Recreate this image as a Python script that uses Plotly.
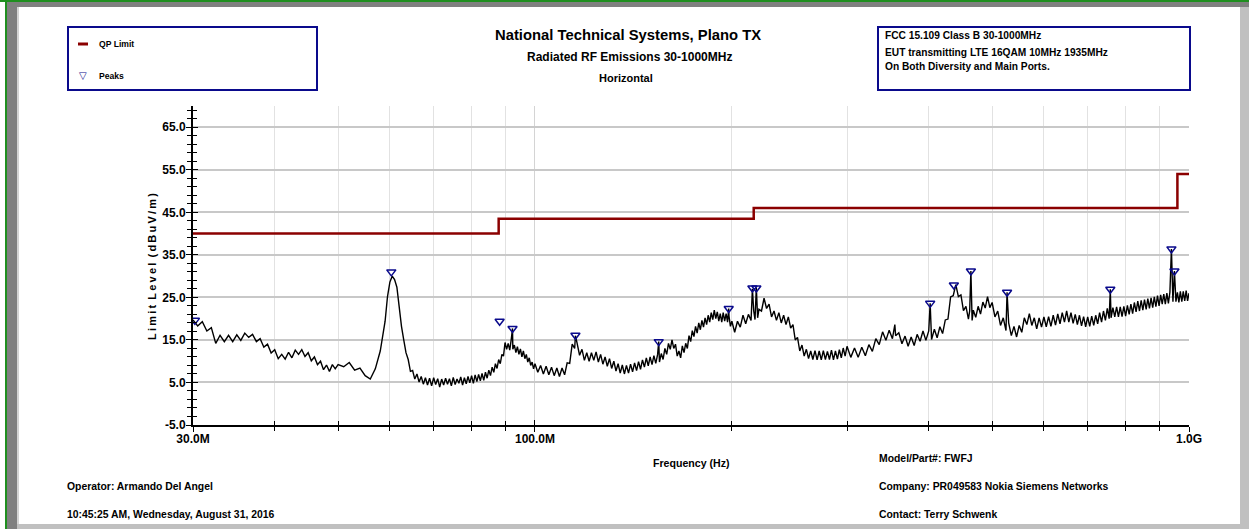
import math
import plotly.graph_objects as go

# ---------------- data ----------------
limit_freq_mhz = [30, 88, 216, 960, 1000]
limit_level = [40.0, 43.5, 46.0, 54.0, 54.0]

peak_freq_mhz = [30.2, 60.3, 88.3, 92.4, 115.3, 154.6, 197.8, 215.0, 218.0,
                 402.0, 437.0, 464.0, 527.0, 758.0, 940.0, 950.0]
peak_level = [19.6, 31.0, 19.4, 17.7, 16.1, 14.6, 22.4, 27.2, 27.2,
              23.6, 27.9, 31.2, 26.2, 26.9, 36.4, 31.2]

# measured trace, split in frequency bands (MHz, dBuV/m)
freq_a = [30.0, 30.5, 31.0, 31.5, 32.0, 32.5, 33.0, 33.5, 34.0, 34.5,
          35.0, 35.5, 36.0, 36.5, 37.0, 37.5, 38.0, 38.5, 39.0, 39.5,
          40.0, 40.5, 41.0, 41.5, 42.0, 42.5, 43.0, 43.5, 44.0, 44.5,
          45.0, 45.5, 46.0, 46.5, 47.0, 47.5, 48.0, 48.5, 49.0, 49.5]
level_a = [19.7, 18.3, 19.3, 17.1, 17.9, 14.2, 16.1, 14.6, 16.1, 14.6,
           16.2, 14.9, 16.6, 15.6, 16.3, 14.6, 15.3, 13.3, 14.0, 11.9,
           12.7, 10.6, 11.6, 10.5, 12.1, 10.8, 12.6, 11.6, 12.7, 11.1,
           12.0, 10.1, 11.0, 9.2, 10.0, 8.0, 9.1, 7.6, 9.2, 8.2]

freq_b = [50, 51, 52, 53, 54, 55, 56, 57,
          58.0, 58.5, 59.0, 59.5, 60.0, 60.5, 61.0, 61.5, 62.0, 62.5, 63.0, 63.5,
          64.0, 64.5, 65.0, 65.5, 66.0, 66.5, 67.0, 67.5, 68.0, 68.5,
          69.0, 69.5, 70.0, 70.5, 71.0, 71.5, 72.0, 72.5, 73.0, 73.5,
          74.0, 74.5, 75.0, 75.5, 76.0, 76.5, 77.0, 77.5, 78.0, 78.5,
          79.0, 79.5, 80.0, 80.5, 81.0, 81.5, 82.0, 82.5, 83.0, 83.5,
          84.0, 84.5, 85.0, 85.5, 86.0, 86.5, 87.0, 87.5, 88.0, 88.5,
          89.0, 89.5, 90.0, 90.5, 91.0, 91.5, 92.0, 92.4, 92.5, 93.0,
          93.5, 94.0, 94.5, 95.0, 95.5, 96.0, 96.5, 97.0, 97.5, 98.0,
          98.5, 99.0, 99.5]
level_b = [9.2, 8.7, 9.7, 7.9, 8.4, 6.6, 5.8, 8.2,
           12.4, 15.8, 19.4, 25.2, 28.6, 30.0, 29.2, 27.4, 22.6, 18.2, 15.0, 12.0,
           10.4, 7.6, 7.8, 5.8, 7.0, 5.1, 6.4, 4.6, 6.1, 4.4,
           6.0, 4.2, 6.1, 4.5, 5.9, 3.9, 5.8, 4.4, 6.0, 4.6,
           5.9, 4.2, 6.2, 4.5, 5.8, 4.8, 6.3, 4.4, 6.1, 4.7,
           6.4, 4.9, 6.6, 4.8, 6.8, 5.2, 6.9, 5.4, 7.1, 5.5,
           7.4, 6.0, 7.9, 6.6, 8.6, 7.4, 9.4, 8.3, 10.4, 9.4,
           11.6, 11.2, 14.4, 12.8, 14.2, 12.6, 15.2, 17.7, 12.8, 13.8,
           12.0, 13.4, 11.6, 12.9, 11.0, 12.4, 10.6, 11.6, 9.8, 10.8,
           9.0, 9.8, 8.2]

freq_c = [100, 101, 102, 103, 104, 105, 106, 107, 108, 109,
          110, 111, 112, 113, 114, 115, 115.3, 116, 117, 118,
          119, 120, 121, 122, 123, 124, 125, 126, 127, 128,
          129, 130, 131, 132, 133, 134, 135, 136, 137, 138,
          139, 140, 141, 142, 143, 144, 145, 146, 147, 148,
          149, 150, 151, 152, 153, 154, 154.6, 155, 156, 157,
          158, 159, 160, 161, 162, 163, 164, 165, 166, 167,
          168, 169, 170, 171, 172, 173, 174, 175, 176, 177,
          178, 179, 180, 181, 182, 183, 184, 185, 186, 187,
          188, 189, 190, 191, 192, 193, 194, 195, 196, 197,
          197.8, 198, 199]
level_c = [9.4, 7.4, 9.0, 7.0, 8.8, 6.8, 8.6, 6.6, 8.4, 6.4,
           8.4, 6.8, 9.6, 9.5, 14.0, 13.0, 16.0, 14.2, 11.4, 12.8,
           10.2, 12.0, 10.0, 12.0, 10.2, 12.2, 9.8, 11.6, 9.3, 11.0,
           8.8, 10.6, 8.3, 10.0, 7.7, 9.4, 7.2, 9.1, 7.0, 9.0,
           7.2, 9.3, 7.5, 9.6, 7.8, 9.9, 8.1, 10.3, 8.6, 10.8,
           8.9, 11.0, 9.2, 11.3, 9.5, 11.6, 14.6, 9.8, 11.8, 10.4,
           13.0, 11.6, 14.2, 12.8, 15.0, 13.0, 14.0, 11.2, 12.4, 10.8,
           13.6, 12.0, 14.2, 13.0, 16.0, 14.6, 17.2, 15.8, 18.2, 16.6,
           19.0, 17.4, 19.6, 18.0, 20.2, 18.6, 20.8, 19.2, 21.4, 19.8,
           22.0, 20.0, 21.6, 19.4, 21.2, 19.2, 21.4, 19.4, 21.2, 19.2,
           22.4, 20.6, 18.2]

freq_d = [200, 202, 204, 206, 208, 210, 212, 214, 215, 216,
          217, 218, 219, 220, 222, 224, 226, 228, 230, 232,
          234, 236, 238, 240, 242, 244, 246, 248, 250, 252,
          254, 256, 258, 260, 262, 264, 266, 268, 270, 272,
          274, 276, 278, 280, 282, 284, 286, 288, 290, 292,
          294, 296, 298]
level_d = [19.4, 16.8, 19.4, 18.0, 20.8, 18.8, 21.0, 19.6, 27.0, 21.8,
           19.8, 27.3, 20.2, 22.2, 21.8, 24.8, 22.4, 23.4, 20.4, 21.8,
           19.6, 21.4, 19.0, 20.8, 18.6, 20.4, 17.8, 18.6, 15.0, 15.6,
           12.4, 13.8, 11.2, 12.8, 10.6, 12.4, 10.4, 12.5, 10.3, 12.4,
           10.3, 12.5, 10.4, 12.3, 10.4, 12.6, 10.3, 12.4, 10.5, 12.7,
           10.8, 13.1, 11.2]

freq_e = [300, 304, 308, 312, 316, 320, 324, 328, 332, 336,
          340, 344, 348, 352, 355, 356, 360, 364, 368, 372,
          376, 380, 384, 388, 392, 396, 400, 402, 404, 408,
          412, 416, 420, 424, 428, 432, 436, 440, 444, 448,
          452, 456, 460, 462, 464, 466, 468, 472, 476, 480,
          484, 488, 492, 496]
level_e = [13.5, 10.9, 13.1, 10.9, 13.3, 11.3, 13.9, 12.3, 15.3, 13.9,
           16.9, 14.9, 17.3, 15.3, 18.6, 16.0, 16.7, 14.1, 15.9, 13.5,
           15.7, 13.7, 16.3, 14.7, 17.1, 14.9, 17.1, 23.6, 15.1, 17.5,
           15.5, 18.1, 16.5, 19.7, 19.9, 25.1, 25.4, 28.0, 25.2, 25.6,
           21.9, 22.9, 19.9, 21.8, 31.2, 19.6, 22.0, 20.3, 22.9, 21.1,
           23.9, 22.5, 25.2, 22.6]

freq_f = [500, 505, 510, 515, 520, 525, 527, 530, 535, 540,
          545, 550, 555, 560, 565, 570, 575, 580, 585, 590,
          595, 600, 605, 610, 615, 620, 625, 630, 635, 640,
          645, 650, 655, 660, 665, 670, 675, 680, 685, 690,
          695, 700, 705, 710, 715, 720, 725, 730, 735, 740,
          745, 750, 755, 758, 760, 765, 770, 775, 780, 785,
          790, 795, 800, 805, 810, 815, 820, 825, 830, 835,
          840, 845, 850, 855, 860, 865, 870, 875, 880, 885,
          890, 895, 900, 905, 910, 915, 920, 925, 930, 935,
          940, 945, 950, 955, 960, 965, 970, 975, 980, 985,
          990, 995, 1000]
level_f = [23.8, 20.4, 21.8, 18.4, 20.2, 17.2, 26.2, 19.0, 16.0, 18.2,
           15.7, 18.4, 16.8, 20.2, 18.6, 21.2, 18.4, 20.2, 17.6, 20.2,
           18.0, 20.4, 18.1, 20.5, 18.2, 20.8, 18.5, 21.1, 18.8, 21.4,
           19.2, 21.8, 19.2, 21.4, 18.9, 21.0, 18.6, 20.8, 18.3, 20.5,
           18.1, 20.4, 18.2, 20.6, 18.4, 20.8, 18.8, 21.4, 19.2, 21.8,
           19.6, 22.4, 20.0, 26.9, 20.2, 22.6, 20.4, 22.8, 20.4, 22.8,
           20.5, 22.9, 20.6, 23.1, 21.0, 23.4, 21.2, 23.8, 21.6, 24.1,
           21.8, 24.3, 22.0, 24.5, 22.2, 24.7, 22.4, 24.9, 22.6, 25.1,
           22.8, 25.4, 23.0, 25.6, 23.4, 25.8, 23.4, 26.0, 23.6, 26.2,
           36.4, 24.0, 31.2, 24.0, 26.2, 23.8, 26.4, 24.0, 26.4, 24.2,
           26.6, 24.2, 26.0]

trace_freq_mhz = freq_a + freq_b + freq_c + freq_d + freq_e + freq_f
trace_level = level_a + level_b + level_c + level_d + level_e + level_f
assert len(trace_freq_mhz) == len(trace_level)

x_major_ticks = [30, 100, 1000]
x_major_labels = ["30.0M", "100.0M", "1.0G"]
x_minor_ticks = [40, 50, 60, 70, 80, 90, 200, 300, 400, 500, 600, 700, 800, 900]
y_ticks = [-5, 5, 15, 25, 35, 45, 55, 65]
y_tick_labels = ["-5.0", "5.0", "15.0", "25.0", "35.0", "45.0", "55.0", "65.0"]

# ---------------- layout helpers ----------------
W, H = 1249, 529
PL, PR, PT, PB = 193, 1189, 106, 425


def px(x):
    return (x - PL) / (PR - PL)


def py(y):
    return (PB - y) / (PB - PT)


FONT = "Liberation Sans, Arial, sans-serif"
NAVY = "#0a0a8c"
RED = "#8b0000"

fig = go.Figure()

fig.add_trace(go.Scatter(
    x=trace_freq_mhz, y=trace_level, mode="lines",
    line=dict(color="black", width=1.4), showlegend=False, name="Trace"))

fig.add_trace(go.Scatter(
    x=limit_freq_mhz, y=limit_level, mode="lines", line_shape="hv",
    line=dict(color=RED, width=2.5), showlegend=False, name="QP Limit"))

fig.add_trace(go.Scatter(
    x=peak_freq_mhz, y=peak_level, mode="markers",
    marker=dict(symbol="triangle-down-open", size=8, color=NAVY,
                line=dict(width=1.5, color=NAVY)),
    showlegend=False, name="Peaks"))

# empty trace so the overlay axes (inner half of crossing ticks) exist
fig.add_trace(go.Scatter(x=[], y=[], xaxis="x2", yaxis="y2", showlegend=False,
                         hoverinfo="skip"))

xr = [math.log10(30), math.log10(1000)]
yr = [-5, 70]

fig.update_layout(
    width=W, height=H, autosize=False,
    margin=dict(l=PL, r=W - PR, t=PT, b=H - PB, pad=0),
    paper_bgcolor="white", plot_bgcolor="white",
    font=dict(family=FONT, size=11, color="black"),
    xaxis=dict(
        type="log", range=xr, showline=True, linecolor="black", linewidth=2,
        tickvals=x_major_ticks,
        ticktext=["<b>%s</b>" % t for t in x_major_labels],
        ticks="outside", ticklen=5, tickwidth=1.2, tickcolor="black",
        tickfont=dict(family=FONT, size=12), ticklabelstandoff=-3,
        showgrid=True, gridcolor="#d4d4d4", gridwidth=1.2, zeroline=False,
        minor=dict(tickvals=x_minor_ticks, ticks="outside", ticklen=4,
                   tickwidth=1.2, tickcolor="black", showgrid=True,
                   gridcolor="#e2e2e2", gridwidth=1.2),
    ),
    yaxis=dict(
        range=yr, showline=True, linecolor="black", linewidth=2,
        tickvals=y_ticks, ticktext=["<b>%s</b>" % t for t in y_tick_labels],
        ticks="outside", ticklen=5, tickwidth=1.2, tickcolor="black",
        tickfont=dict(family=FONT, size=12), ticklabelstandoff=-2,
        showgrid=True, gridcolor="#c8c8c8", gridwidth=1.6, zeroline=False,
        minor=dict(tick0=-5, dtick=2, ticks="outside", ticklen=4,
                   tickwidth=1.2, tickcolor="black", showgrid=False),
    ),
    xaxis2=dict(
        type="log", range=xr, overlaying="x", anchor="y", side="bottom",
        tickvals=x_major_ticks, ticks="inside", ticklen=5, tickwidth=1.2,
        tickcolor="black", showticklabels=False, showgrid=False,
        showline=False, zeroline=False,
        minor=dict(tickvals=x_minor_ticks, ticks="inside", ticklen=4,
                   tickwidth=1.2, tickcolor="black", showgrid=False),
    ),
    yaxis2=dict(
        range=yr, overlaying="y", anchor="x", side="left",
        tickvals=y_ticks, ticks="inside", ticklen=5, tickwidth=1.2,
        tickcolor="black", showticklabels=False, showgrid=False,
        showline=False, zeroline=False,
        minor=dict(tick0=-5, dtick=2, ticks="inside", ticklen=4,
                   tickwidth=1.2, tickcolor="black", showgrid=False),
    ),
)


def hline(x0, x1, y, color, width):
    return dict(type="line", xref="paper", yref="paper", x0=px(x0), x1=px(x1),
                y0=py(y), y1=py(y), line=dict(color=color, width=width), layer="above")


shapes = [
    # legend box and info box
    dict(type="rect", xref="paper", yref="paper", x0=px(68), x1=px(317),
         y0=py(90), y1=py(27), line=dict(color=NAVY, width=2), layer="above"),
    dict(type="rect", xref="paper", yref="paper", x0=px(878), x1=px(1190),
         y0=py(90), y1=py(27), line=dict(color=NAVY, width=2), layer="above"),
    hline(78, 88, 44, RED, 3),
]
fig.update_layout(shapes=shapes)


def bar(x0, x1, y0, y1, color):
    # solid frame strip drawn as an empty annotation box (window bevel)
    fig.add_annotation(text=" ", x=px(x0), y=py(y0), xref="paper", yref="paper",
                       xanchor="left", yanchor="top", showarrow=False,
                       width=x1 - x0, height=y1 - y0, bgcolor=color,
                       borderpad=0, borderwidth=0, font=dict(size=1))


# sunken window frame
bar(0, 1249, 0, 2, "#1f8f1f")
bar(5, 7, 0, 529, "#1f8f1f")
bar(7, 17, 2, 529, "#808080")
bar(7, 1249, 2, 7, "#808080")
bar(17, 19, 7, 529, "#d4d4d4")
bar(1240, 1249, 7, 529, "#c0c0c0")
bar(17, 1249, 524, 529, "#c0c0c0")


def note(text, x, y, size=11, xanchor="left", color="black", family=FONT, angle=0):
    fig.add_annotation(text=text, x=px(x), y=py(y), xref="paper", yref="paper",
                       xanchor=xanchor, yanchor="middle", showarrow=False,
                       textangle=angle,
                       font=dict(family=family, size=size, color=color))


note("<b>National Technical Systems, Plano TX</b>", 628, 35, size=14.8, xanchor="center")
note("<b>Radiated RF Emissions 30-1000MHz</b>", 629, 57, size=12, xanchor="center")
note("<b>Horizontal</b>", 626, 78, size=11, xanchor="center")

note("<b>FCC 15.109 Class B 30-1000MHz</b>", 883, 36, size=10.2)
note("<b>EUT transmitting LTE 16QAM 10MHz 1935MHz</b>", 883, 52, size=10.2)
note("<b>On Both Diversity and Main Ports.</b>", 883, 67, size=10.2)

note("<b>QP Limit</b>", 97, 44, size=8.6)
note("<b>Peaks</b>", 97, 76, size=8.6)
note("▽", 83, 76, size=10, xanchor="center", color=NAVY, family="DejaVu Sans")

note("<b>L\u2009i\u2009m\u2009i\u2009t\u2009 L\u2009e\u2009v\u2009e\u2009l\u2009 (\u2009d\u2009B\u2009u\u2009V\u2009/\u2009m\u2009)</b>",
     152, 267, size=11, xanchor="center", angle=-90)
note("<b>Frequency (Hz)</b>", 691, 463, size=10.6, xanchor="center")

note("<b>Operator: Armando Del Angel</b>", 65, 487, size=10.4)
note("<b>10:45:25 AM, Wednesday, August 31, 2016</b>", 65, 514, size=10.4)
note("<b>Model/Part#: FWFJ</b>", 877, 459, size=10.4)
note("<b>Company: PR049583 Nokia Siemens Networks</b>", 877, 487, size=10.4)
note("<b>Contact: Terry Schwenk</b>", 877, 514, size=10.4)

fig.write_html("out.html",
               config={"displayModeBar": False},
               post_script="document.body.style.margin='0';"
                           "document.body.style.overflow='hidden';")
